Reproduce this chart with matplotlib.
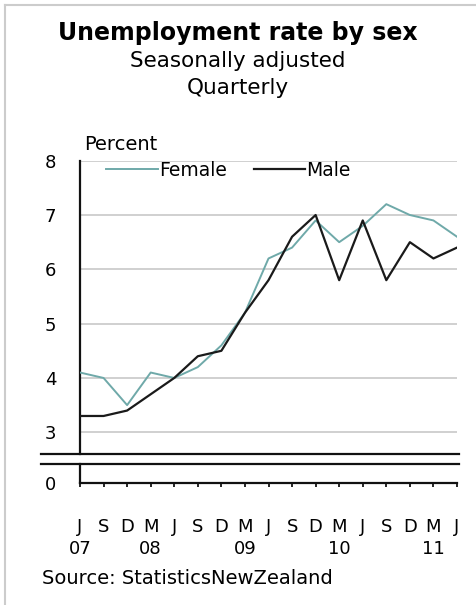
import numpy as np
import matplotlib
matplotlib.use("Agg")
import matplotlib.pyplot as plt
from matplotlib.lines import Line2D

plt.rcParams['font.family'] = ['DejaVu Sans']

# Quarterly series, June 2007 to June 2011 (percent, seasonally adjusted)
months = ["J", "S", "D", "M", "J", "S", "D", "M", "J",
          "S", "D", "M", "J", "S", "D", "M", "J"]
years = ["07", "", "", "08", "", "", "", "09", "",
         "", "", "10", "", "", "", "11", ""]
female = [4.1, 4.0, 3.5, 4.1, 4.0, 4.2, 4.6, 5.2, 6.2,
          6.4, 6.9, 6.5, 6.8, 7.2, 7.0, 6.9, 6.6]
male = [3.3, 3.3, 3.4, 3.7, 4.0, 4.4, 4.5, 5.2, 5.8,
        6.6, 7.0, 5.8, 6.9, 5.8, 6.5, 6.2, 6.4]
yticks = [3, 4, 5, 6, 7, 8]

female_colour = "#6fa9a9"
male_colour = "#1a1a1a"
grid_colour = "#c8c8c8"

W, H = 476, 605
fig = plt.figure(figsize=(W / 100, H / 100), dpi=100)


def fx(px):
    return px / W


def fy(py):
    return 1 - py / H


x = np.arange(len(months))

# upper panel: 2.6 to 8 percent
left, right = 80, 457
ax = fig.add_axes([fx(left), fy(454), fx(right - left), fy(160.7) - fy(454)])
ax.set_xlim(0, len(months) - 1)
ax.set_ylim(2.6, 8)
for y in yticks:
    ax.axhline(y, color=grid_colour, lw=1.2, zorder=0)
ax.plot(x, female, color=female_colour, lw=1.4, label="Female", zorder=3)
ax.plot(x, male, color=male_colour, lw=1.6, label="Male", zorder=3)
for s in ["top", "right", "bottom"]:
    ax.spines[s].set_visible(False)
ax.spines["left"].set_linewidth(1.6)
ax.spines["left"].set_color("#111111")
ax.set_xticks([])
ax.set_yticks(yticks)
ax.tick_params(axis="y", length=0, pad=17, labelsize=13)

leg = ax.legend(loc="upper left", bbox_to_anchor=(0.05, 1.025), ncol=2,
                frameon=False, fontsize=13.5, handlelength=2.75,
                handletextpad=0.05, columnspacing=1.45, borderaxespad=0)

# lower panel holding the zero baseline
ax0 = fig.add_axes([fx(left), fy(483), fx(right - left), fy(464) - fy(483)])
ax0.set_xlim(0, len(months) - 1)
ax0.set_ylim(0, 1)
for s in ["top", "right"]:
    ax0.spines[s].set_visible(False)
for s in ["left", "bottom"]:
    ax0.spines[s].set_linewidth(1.6)
    ax0.spines[s].set_color("#111111")
ax0.set_yticks([0])
ax0.tick_params(axis="y", length=0, pad=17, labelsize=13)
ax0.set_xticks(x)
ax0.set_xticklabels([m + "\n" + yr for m, yr in zip(months, years)])
ax0.tick_params(axis="x", direction="out", length=3, width=1.2,
                pad=22, labelsize=13)
for lab in ax0.get_xticklabels():
    lab.set_linespacing(1.3)
    lab.set_verticalalignment("top")

# axis break lines
for py in (454, 464):
    fig.add_artist(Line2D([fx(41), fx(459)], [fy(py), fy(py)],
                          color="#111111", lw=1.6))

# light frame on top and left edges
fig.add_artist(Line2D([fx(4.5), fx(476)], [fy(4.5), fy(4.5)], color="#cccccc", lw=1.5))
fig.add_artist(Line2D([fx(4.5), fx(4.5)], [fy(4.5), fy(605)], color="#cccccc", lw=1.5))

fig.text(0.5, fy(33), "Unemployment rate by sex", ha="center", va="center",
         fontsize=17, fontweight="bold")
fig.text(0.5, fy(61), "Seasonally adjusted", ha="center", va="center", fontsize=15.5)
fig.text(0.5, fy(88), "Quarterly", ha="center", va="center", fontsize=15.5)
fig.text(fx(84), fy(145), "Percent", ha="left", va="center", fontsize=14)
fig.text(fx(42), fy(579), "Source: StatisticsNewZealand", ha="left", va="center",
         fontsize=14)

fig.savefig("out.png", dpi=100)
